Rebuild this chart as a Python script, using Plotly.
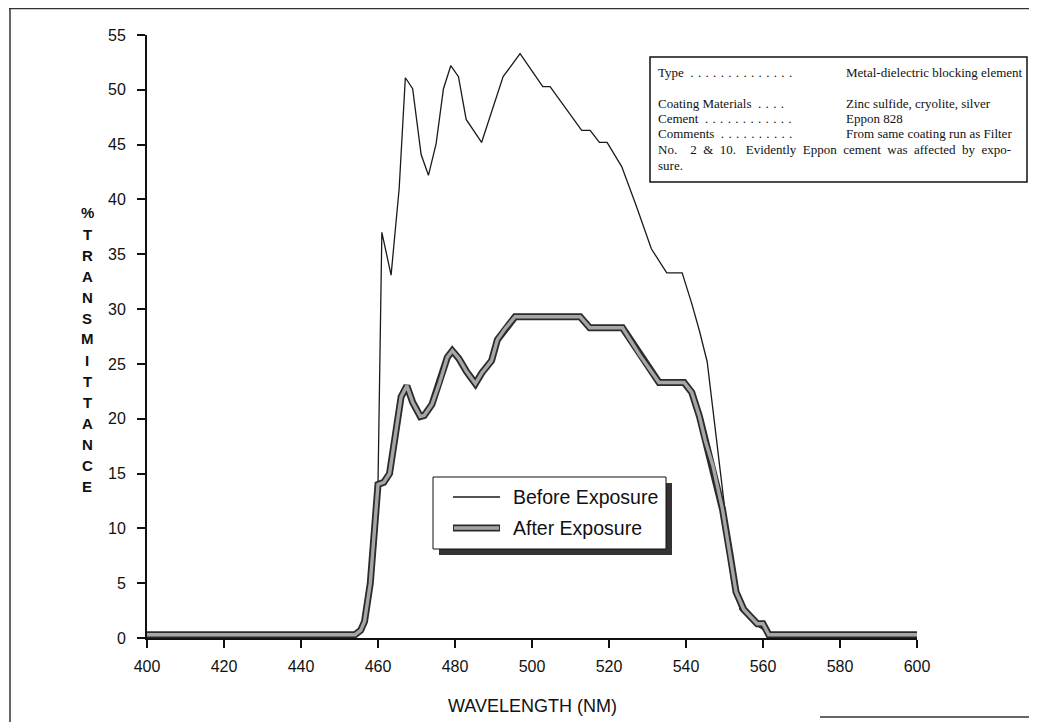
import plotly.graph_objects as go

# ---------------- data ----------------
before_wl = [400, 455, 456.5, 458, 459, 460, 461, 463.4, 465.5, 467.1, 469, 471.2, 473.1,
             475.1, 477, 478.9, 480.9, 482.9, 486.9, 492.5, 496.9, 502.8, 504.7, 512.9,
             515.1, 517.5, 519.5, 523.3, 527, 531, 535, 539, 541.5, 543.5, 545.5, 548,
             550, 552, 554, 556.6, 558, 560, 562, 600]
before_t = [0.3, 0.3, 1.2, 5, 10, 14, 37, 33.1, 41, 51.1, 50.1, 44.1, 42.2,
            45.1, 50.1, 52.2, 51.2, 47.3, 45.2, 51.2, 53.3, 50.3, 50.3, 46.3,
            46.3, 45.2, 45.2, 43, 39.5, 35.5, 33.3, 33.3, 30.5, 28, 25.2, 18,
            12, 7, 2.6, 1.7, 1.2, 0.8, 0.3, 0.3]

after_wl = [400, 454, 455.5, 456.5, 458, 459, 460, 461.5, 463, 464.5, 466, 467.5, 469,
            471, 472, 474, 476, 478, 479.3, 481, 483, 485.3, 487, 489.5, 491, 493,
            495.6, 512.5, 515, 523.5, 528, 533, 539.5, 541.5, 543.5, 545, 547, 549.5,
            551.5, 553, 555, 557, 558.5, 560, 561.5, 600]
after_t = [0.3, 0.3, 0.7, 1.5, 5, 10, 14, 14.2, 15, 18.5, 22, 23, 21.5,
           20.2, 20.3, 21.3, 23.3, 25.6, 26.2, 25.5, 24.3, 23.2, 24.2, 25.3, 27.2, 28.2,
           29.3, 29.3, 28.3, 28.3, 25.8, 23.3, 23.3, 22.4, 20.2, 18, 15.7, 11.7,
           7.5, 4.2, 2.6, 1.8, 1.3, 1.3, 0.3, 0.3]

x_ticks = list(range(400, 601, 20))
y_ticks = list(range(0, 56, 5))

series_names = ["Before Exposure", "After Exposure"]
x_title = "WAVELENGTH (NM)"
y_title_chars = ["%", "T", "R", "A", "N", "S", "M", "I", "T", "T", "A", "N", "C", "E"]

NB = "\u00a0"
HAIR = "\u200a"
info_labels = ["Type", "Coating Materials", "Cement", "Comments"]
info_dots = [14, 4, 12, 10]
info_values = ["Metal-dielectric blocking element",
               "Zinc sulfide, cryolite, silver",
               "Eppon 828",
               "From same coating run as Filter"]
info_tail = ["No.  2 & 10.  Evidently Eppon cement was affected by expo-", "sure."]

# ---------------- layout geometry (reference page pixels) ----------------
PAGE_W, PAGE_H = 1037, 722
OFF = 8                      # default page body margin
W, H = PAGE_W - OFF, PAGE_H - OFF
L, R, T, B = 147, 917, 35, 638


def px(x):
    return (x - L) / (R - L)


def py(y):
    return (B - y) / (B - T)


SANS = "Liberation Sans, Arial, Helvetica, sans-serif"
SERIF = "Liberation Serif, Times New Roman, serif"
INK = "#111111"
OUTLINE = "#2b2b2b"
INNER = "#a6a6a6"

fig = go.Figure()
fig.add_trace(go.Scatter(x=before_wl, y=before_t, mode="lines", name=series_names[0],
                         line=dict(color="#1a1a1a", width=1.3), showlegend=False))
fig.add_trace(go.Scatter(x=after_wl, y=after_t, mode="lines", name=series_names[1],
                         line=dict(color=OUTLINE, width=7), showlegend=False))
fig.add_trace(go.Scatter(x=after_wl, y=after_t, mode="lines", name=series_names[1],
                         line=dict(color=INNER, width=3.4), showlegend=False,
                         hoverinfo="skip"))

shapes = []
# outer frame of the page
frame = dict(type="line", xref="paper", yref="paper",
             line=dict(color="#333", width=1.5))
shapes.append({**frame, "x0": px(9), "x1": px(1031), "y0": py(8.5), "y1": py(8.5)})
shapes.append({**frame, "x0": px(10), "x1": px(10), "y0": py(8.5), "y1": py(722)})
shapes.append({**frame, "x0": px(1030), "x1": px(1030), "y0": py(8.5), "y1": py(705)})
shapes.append({**frame, "x0": px(820), "x1": px(1031), "y0": py(717), "y1": py(717)})

# info box
shapes.append(dict(type="rect", xref="paper", yref="paper",
                   x0=px(650), x1=px(1027), y0=py(182), y1=py(57),
                   line=dict(color=INK, width=1.5), fillcolor="white"))

# legend box with shadow
shapes.append(dict(type="rect", xref="paper", yref="paper",
                   x0=px(439), x1=px(672), y0=py(555), y1=py(483),
                   line=dict(width=0), fillcolor="#333"))
shapes.append(dict(type="rect", xref="paper", yref="paper",
                   x0=px(433), x1=px(666), y0=py(549), y1=py(477),
                   line=dict(color=INK, width=1), fillcolor="white"))
shapes.append(dict(type="line", xref="paper", yref="paper",
                   x0=px(453), x1=px(500), y0=py(497), y1=py(497),
                   line=dict(color="#1a1a1a", width=1.3)))
shapes.append(dict(type="line", xref="paper", yref="paper",
                   x0=px(453), x1=px(500), y0=py(528), y1=py(528),
                   line=dict(color=OUTLINE, width=7)))
shapes.append(dict(type="line", xref="paper", yref="paper",
                   x0=px(454), x1=px(499), y0=py(528), y1=py(528),
                   line=dict(color=INNER, width=3.4)))

annotations = []
for name, ypx in zip(series_names, [497, 528]):
    annotations.append(dict(text=name, xref="paper", yref="paper",
                            x=px(511), y=py(ypx), xanchor="left", yanchor="middle",
                            showarrow=False, font=dict(family=SANS, size=19.5, color=INK)))

# info box text (one annotation per printed line)
info_font = dict(family=SERIF, size=13, color=INK)
row_y = [72, 103, 118, 133]
for lab, nd, val, yy in zip(info_labels, info_dots, info_values, row_y):
    dots = (" " + HAIR).join(["."] * nd)
    annotations.append(dict(text=lab + NB + " " + dots, xref="paper",
                            yref="paper", x=px(656), y=py(yy), xanchor="left",
                            yanchor="middle", showarrow=False, font=info_font))
    annotations.append(dict(text=val, xref="paper", yref="paper", x=px(844), y=py(yy),
                            xanchor="left", yanchor="middle", showarrow=False,
                            font=info_font))
tail0 = info_tail[0].split()
tail_text = (NB + " ").join(tail0).replace("No." + NB, "No." + NB + NB + NB) \
    .replace("10." + NB, "10." + NB + NB)
annotations.append(dict(text=tail_text, xref="paper", yref="paper", x=px(656), y=py(149),
                        xanchor="left", yanchor="middle", showarrow=False, font=info_font))
annotations.append(dict(text=info_tail[1], xref="paper", yref="paper", x=px(656), y=py(165),
                        xanchor="left", yanchor="middle", showarrow=False, font=info_font))

# x title
annotations.append(dict(text=x_title, xref="paper", yref="paper",
                        x=px(532), y=py(706), xanchor="center", yanchor="middle",
                        showarrow=False, font=dict(family=SANS, size=18, color=INK)))

# stacked y title
ypos = 212
for i, ch in enumerate(y_title_chars):
    annotations.append(dict(text="<b>%s</b>" % ch, xref="paper", yref="paper",
                            x=px(87), y=py(ypos), xanchor="center", yanchor="middle",
                            showarrow=False,
                            font=dict(family=SANS, size=15, color=INK)))
    ypos += 22 if i == 0 else 21

axis_common = dict(showline=True, linewidth=2, linecolor=INK, ticks="outside",
                   ticklen=8, tickwidth=2, tickcolor=INK, showgrid=False,
                   zeroline=False, tickfont=dict(family=SANS, size=16, color=INK))

fig.update_layout(
    width=W, height=H,
    margin=dict(l=L - OFF, r=PAGE_W - R, t=T - OFF, b=PAGE_H - B, pad=0),
    paper_bgcolor="white", plot_bgcolor="white",
    showlegend=False,
    xaxis=dict(range=[400, 600], tickvals=x_ticks, ticklabelstandoff=5, **axis_common),
    yaxis=dict(range=[0, 55], tickvals=y_ticks, ticklabelstandoff=8, **axis_common),
    shapes=shapes,
    annotations=annotations,
)

fig.write_html("out.html")
